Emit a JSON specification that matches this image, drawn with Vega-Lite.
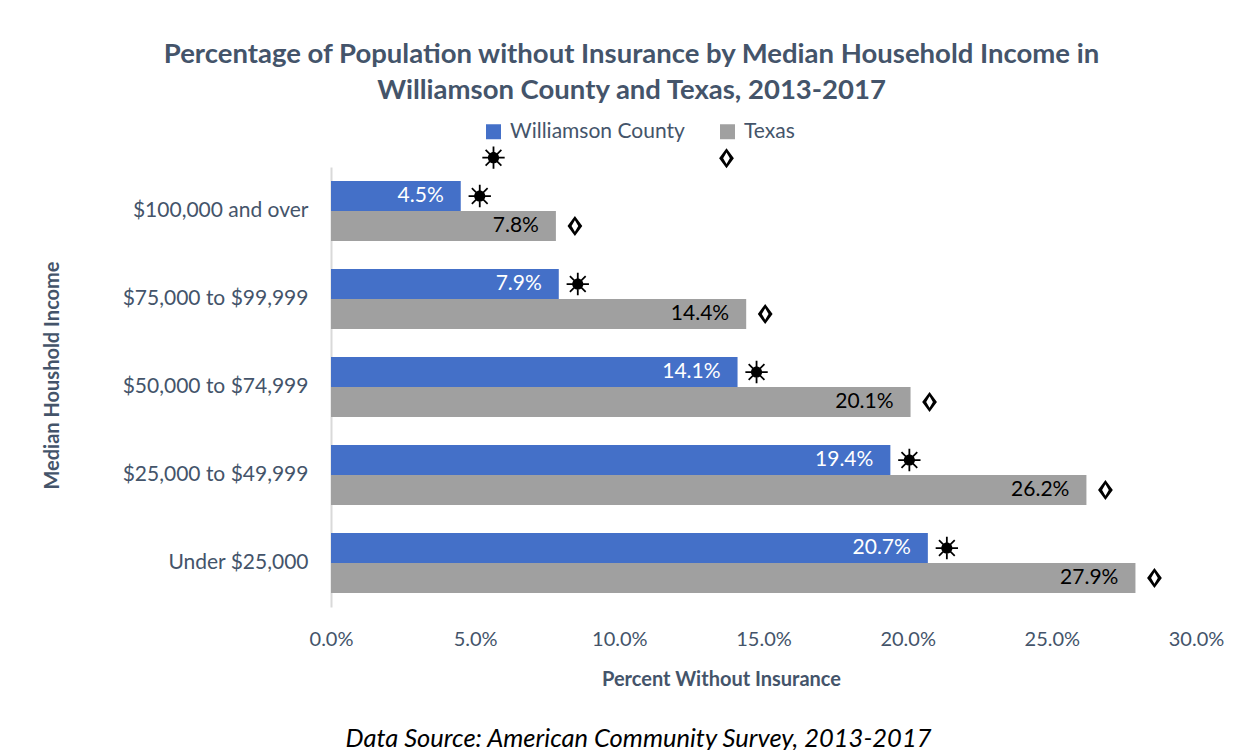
{
  "$schema": "https://vega.github.io/schema/vega-lite/v6.json",
  "width": 865,
  "height": 440,
  "autosize": "none",
  "padding": {"left": 331, "top": 167, "right": 56, "bottom": 143},
  "background": "white",
  "config": {"view": {"stroke": null}, "font": "Lato"},
  "title": {
    "text": ["Percentage of Population without Insurance by Median Household Income in", "Williamson County and Texas, 2013-2017"],
    "fontSize": 27.5,
    "fontWeight": "bold",
    "color": "#44546A",
    "anchor": "middle",
    "dx": -132,
    "offset": 17,
    "lineHeight": 36,
    "font": "Lato"
  },
  "data": {
    "values": [
      {"income": "$100,000 and over", "series": "Williamson County", "marker_series": "Williamson County", "value": 0.045},
      {"income": "$100,000 and over", "series": "Texas", "marker_series": "Texas", "value": 0.078},
      {"income": "$75,000 to $99,999", "series": "Williamson County", "marker_series": "Williamson County", "value": 0.079},
      {"income": "$75,000 to $99,999", "series": "Texas", "marker_series": "Texas", "value": 0.144},
      {"income": "$50,000 to $74,999", "series": "Williamson County", "marker_series": "Williamson County", "value": 0.141},
      {"income": "$50,000 to $74,999", "series": "Texas", "marker_series": "Texas", "value": 0.201},
      {"income": "$25,000 to $49,999", "series": "Williamson County", "marker_series": "Williamson County", "value": 0.194},
      {"income": "$25,000 to $49,999", "series": "Texas", "marker_series": "Texas", "value": 0.262},
      {"income": "Under $25,000", "series": "Williamson County", "marker_series": "Williamson County", "value": 0.207},
      {"income": "Under $25,000", "series": "Texas", "marker_series": "Texas", "value": 0.279}
    ]
  },
  "encoding": {
    "y": {
      "field": "income",
      "type": "nominal",
      "sort": ["$100,000 and over", "$75,000 to $99,999", "$50,000 to $74,999", "$25,000 to $49,999", "Under $25,000"],
      "scale": {"paddingInner": 0.32, "paddingOuter": 0.16},
      "axis": {
        "title": "Median Houshold Income",
        "titleFontSize": 20,
        "titleFontWeight": "bold",
        "titleColor": "#44546A",
        "titleAngle": -90,
        "titleX": -279,
        "titleY": 208,
        "titleAlign": "center",
        "titleBaseline": "middle",
        "labelFontSize": 21,
        "labelLimit": 0,
        "labelColor": "#44546A",
        "labelPadding": 23,
        "ticks": false,
        "domainColor": "#D9D9D9",
        "domainWidth": 2,
        "grid": false
      }
    },
    "yOffset": {"field": "series", "type": "nominal", "sort": ["Williamson County", "Texas"]}
  },
  "layer": [
    {
      "layer": [
        {
          "mark": {"type": "bar"},
          "encoding": {
            "x": {
              "field": "value",
              "type": "quantitative",
              "scale": {"domain": [0, 0.3], "nice": false},
              "axis": {
                "format": ".1%",
                "values": [0, 0.05, 0.1, 0.15, 0.2, 0.25, 0.3],
                "grid": false,
                "ticks": false,
                "domain": false,
                "labelFlush": false,
                "labelFontSize": 20,
                "labelColor": "#44546A",
                "labelPadding": 22,
                "title": "Percent Without Insurance",
                "titleFontSize": 20,
                "titleFontWeight": "bold",
                "titleColor": "#44546A",
                "titleX": 390,
                "titleAlign": "center",
                "titlePadding": 20
              }
            },
            "color": {
              "field": "series",
              "type": "nominal",
              "scale": {
                "domain": ["Williamson County", "Texas"],
                "range": ["#4470C8", "#A0A0A0"]
              },
              "legend": {
                "orient": "none",
                "legendX": 152,
                "legendY": -46,
                "direction": "horizontal",
                "title": null,
                "padding": 0,
                "symbolType": "square",
                "symbolSize": 225,
                "symbolStrokeWidth": 0,
                "labelFontSize": 21,
                "labelLimit": 0,
                "labelColor": "#44546A",
                "labelOffset": 6,
                "columnPadding": 32
              }
            }
          }
        },
        {
          "mark": {"type": "text", "align": "right", "baseline": "middle", "dx": -17, "fontSize": 21},
          "encoding": {
            "x": {"field": "value", "type": "quantitative"},
            "text": {"field": "value", "type": "quantitative", "format": ".1%"},
            "color": {"condition": {"test": "datum.series === 'Williamson County'", "value": "white"}, "value": "black"}
          }
        }
      ]
    },
    {
      "mark": {"type": "point", "filled": true, "opacity": 1, "color": "black", "size": 500, "xOffset": 19},
      "encoding": {
        "x": {
          "field": "value",
          "type": "quantitative",
          "scale": {"domain": [0, 0.3], "nice": false},
          "axis": {
            "orient": "bottom",
            "labels": false,
            "ticks": false,
            "domain": false,
            "grid": false,
            "title": "Data Source: American Community Survey, 2013-2017",
            "titleFontSize": 25.5,
            "titleFontWeight": "normal",
            "titleFontStyle": "italic",
            "titleColor": "black",
            "titleX": 307,
            "titleY": 131,
            "titleAlign": "center",
            "titleBaseline": "middle"
          }
        },
        "shape": {
          "field": "marker_series",
          "type": "nominal",
          "sort": ["Williamson County", "Texas"],
          "scale": {
            "range": [
              "M0,-0.5A0.5,0.5 0 1,1 0,0.5A0.5,0.5 0 1,1 0,-0.5Z M-0.08,-1L0.08,-1L0.08,1L-0.08,1Z M-1,-0.08L1,-0.08L1,0.08L-1,0.08Z M-0.76,-0.65L-0.65,-0.76L0.76,0.65L0.65,0.76Z M-0.76,0.65L0.65,-0.76L0.76,-0.65L-0.65,0.76Z",
              "M0,-0.9L0.66,0L0,0.9L-0.66,0Z M0,-0.52L-0.3,0L0,0.52L0.3,0Z"
            ]
          },
          "legend": {
            "orient": "none",
            "legendX": 151,
            "legendY": -21,
            "direction": "horizontal",
            "title": null,
            "padding": 0,
            "labelExpr": "''",
            "labelOffset": 0,
            "symbolSize": 500,
            "symbolFillColor": "black",
            "symbolStrokeWidth": 0,
            "symbolOpacity": 1,
            "columnPadding": 210,
            "encode": {
              "symbols": {
                "update": {
                  "fill": {"value": "black"},
                  "opacity": {"value": 1}
                }
              }
            }
          }
        }
      }
    }
  ],
  "resolve": {"scale": {"x": "independent"}, "axis": {"x": "independent"}}
}
